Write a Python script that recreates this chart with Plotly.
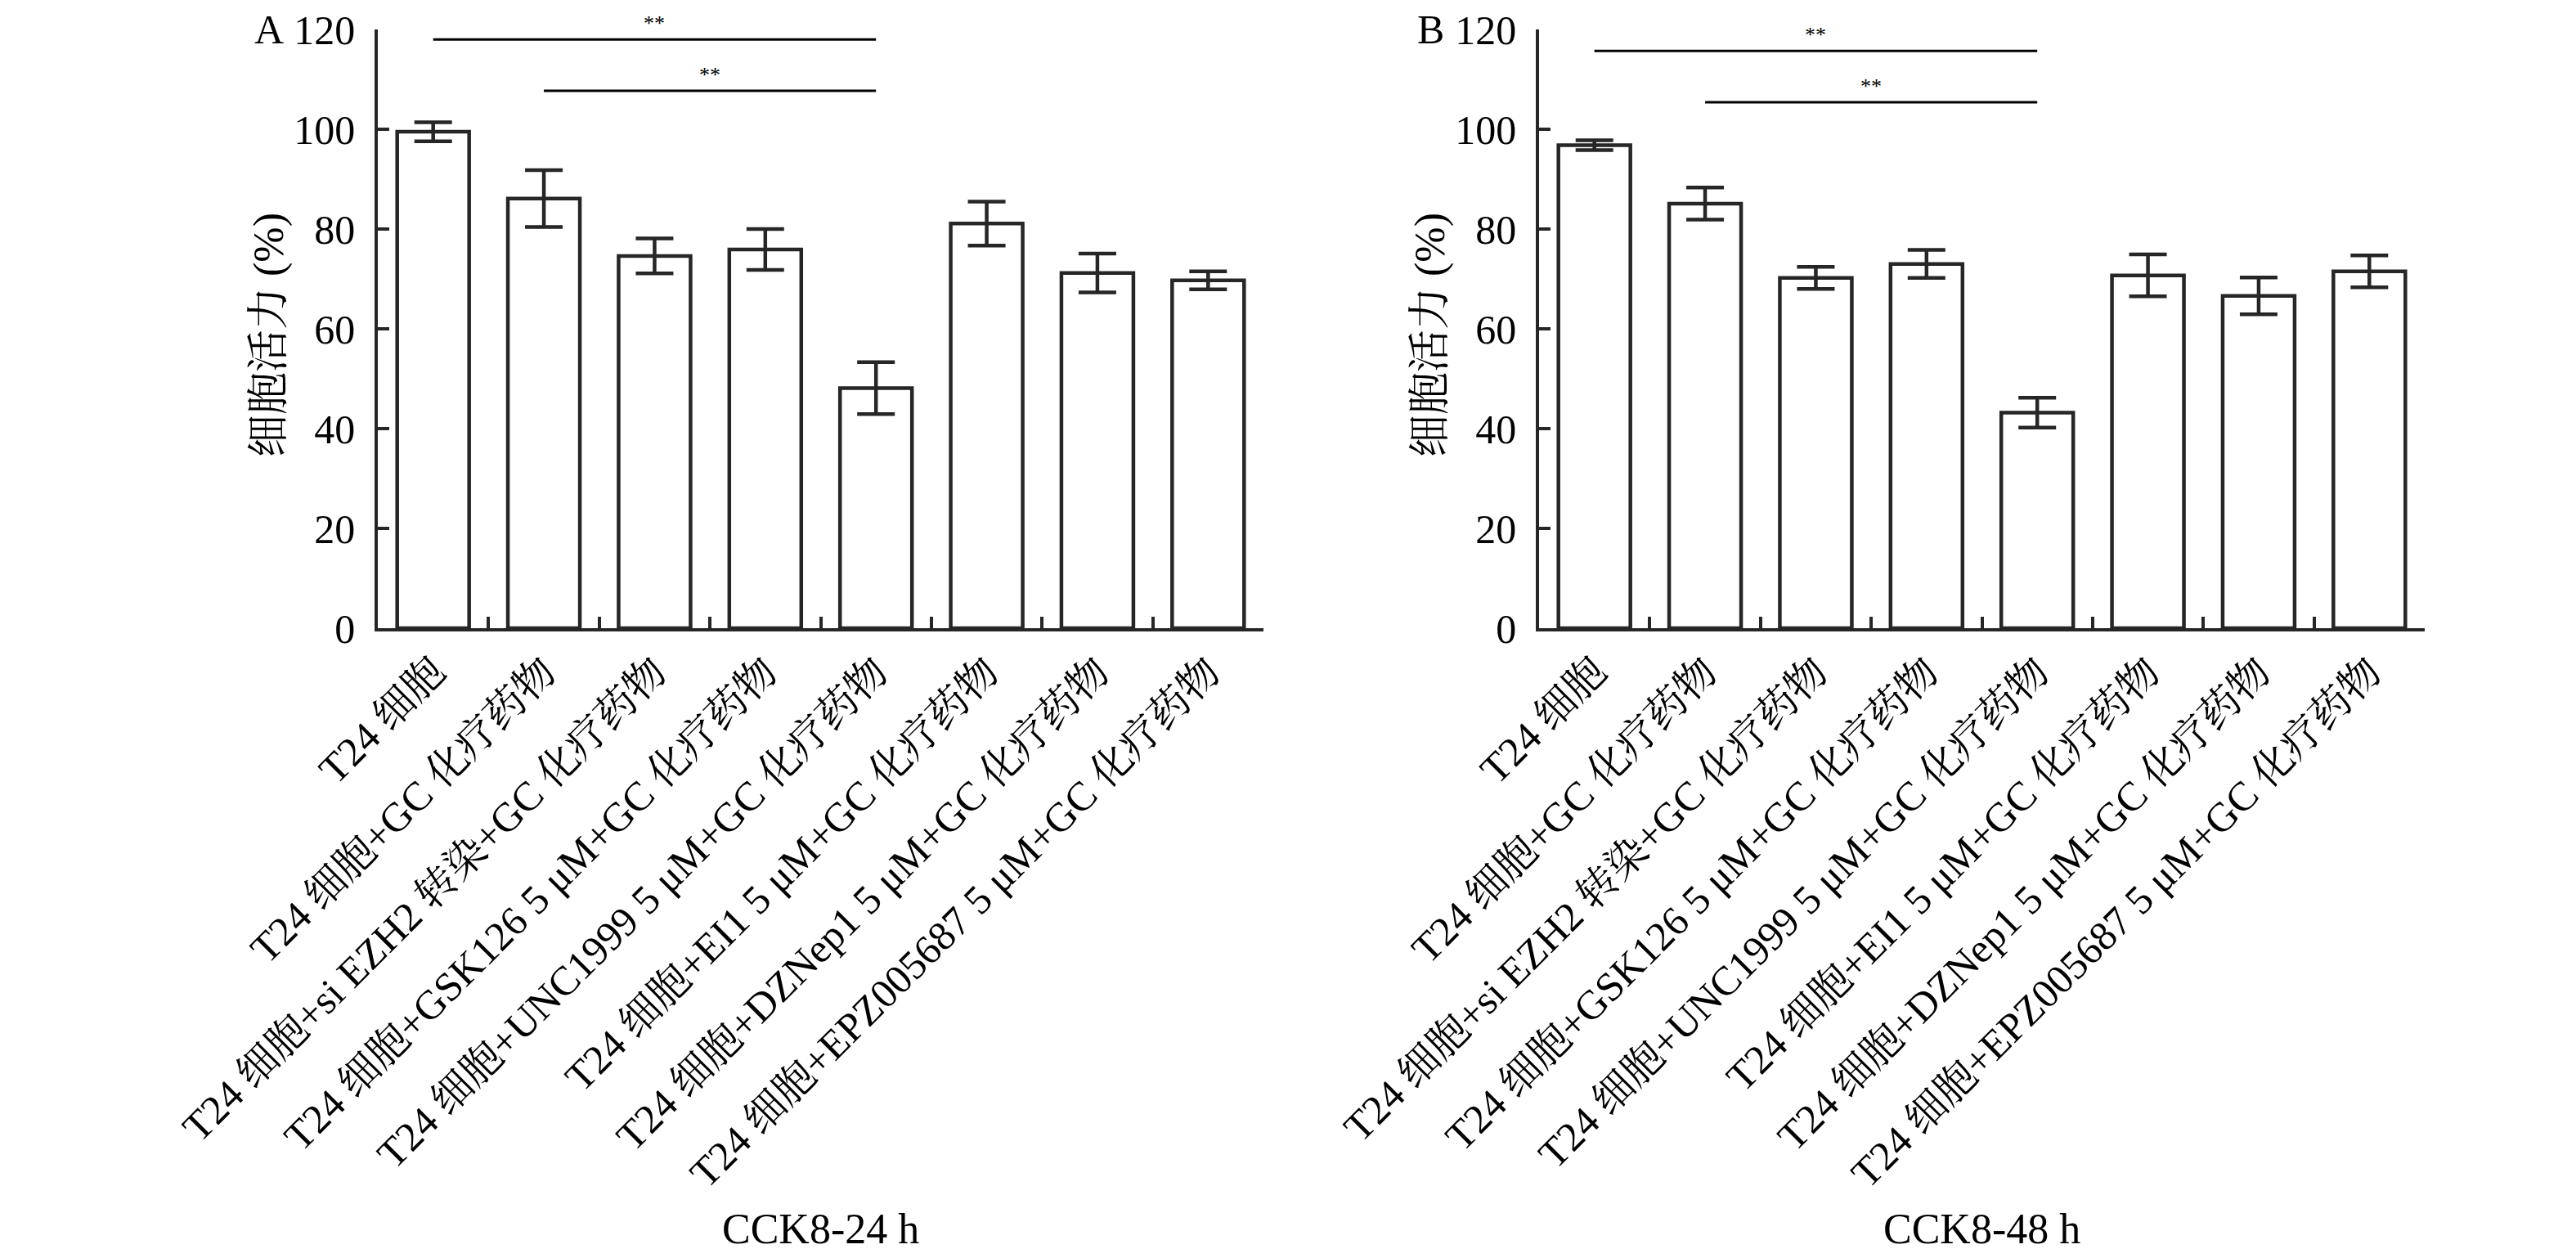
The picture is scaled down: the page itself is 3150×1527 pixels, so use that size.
import plotly.graph_objects as go

W, H = 3150, 1527

categories = [
    "T24 细胞",
    "T24 细胞+GC 化疗药物",
    "T24 细胞+si EZH2 转染+GC 化疗药物",
    "T24 细胞+GSK126 5 μM+GC 化疗药物",
    "T24 细胞+UNC1999 5 μM+GC 化疗药物",
    "T24 细胞+EI1 5 μM+GC 化疗药物",
    "T24 细胞+DZNep1 5 μM+GC 化疗药物",
    "T24 细胞+EPZ005687 5 μM+GC 化疗药物",
]

viability_24h = [99.5, 86.1, 74.6, 75.9, 48.1, 81.1, 71.2, 69.7]
error_24h = [1.9, 5.7, 3.5, 4.1, 5.2, 4.4, 3.9, 1.8]

viability_48h = [96.8, 85.1, 70.2, 73.0, 43.2, 70.7, 66.6, 71.5]
error_48h = [1.0, 3.2, 2.2, 2.8, 3.0, 4.2, 3.7, 3.2]

panel_letters = ["A", "B"]
x_titles = ["CCK8-24 h", "CCK8-48 h"]
y_title = "细胞活力 (%)"
y_ticks = [0, 20, 40, 60, 80, 100, 120]

# significance brackets: (from index, to index, height, label)
sig_24h = [(0, 4, 118.0, "**"), (1, 4, 107.7, "**")]
sig_48h = [(0, 4, 115.7, "**"), (1, 4, 105.4, "**")]

FONT = "Liberation Serif, Noto Serif CJK SC, Noto Sans CJK SC, serif"
DARK = "#262626"

# layout geometry (pixels in the 3150x1527 figure)
x_dom_px = [(454, 1537), (1874, 2957)]
y_top_px, y_bot_px = 28, 760

fig = go.Figure()

datasets = [(viability_24h, error_24h, sig_24h), (viability_48h, error_48h, sig_48h)]
for i, (vals, errs, sigs) in enumerate(datasets):
    xa = "x" if i == 0 else "x2"
    ya = "y" if i == 0 else "y2"
    fig.add_trace(go.Bar(
        x=categories, y=vals,
        xaxis=xa, yaxis=ya,
        width=0.65,
        marker=dict(color="white", line=dict(color=DARK, width=4.5)),
        error_y=dict(type="data", array=errs, visible=True,
                     color=DARK, thickness=4.5, width=23),
        showlegend=False,
    ))
    for a, b, h, txt in sigs:
        fig.add_shape(type="line", xref=xa, yref=ya,
                      x0=categories[a], x1=categories[b], y0=h, y1=h,
                      line=dict(color="black", width=3))
        fig.add_annotation(xref=xa, yref=ya, x=(a + b) / 2, y=h,
                           text=txt, showarrow=False,
                           xanchor="center", yanchor="bottom", yshift=3,
                           font=dict(family=FONT, size=26, color="black"))

y_dom = [1 - y_bot_px / H, 1 - y_top_px / H]

axis_common = dict(
    showline=True, linecolor=DARK, linewidth=3.5,
    showgrid=False, zeroline=False,
    ticks="inside", ticklen=14, tickwidth=3.5, tickcolor=DARK,
    automargin=False,
)

for i in range(2):
    xd = [x_dom_px[i][0] / W, x_dom_px[i][1] / W]
    xkey = "xaxis" if i == 0 else "xaxis2"
    ykey = "yaxis" if i == 0 else "yaxis2"
    fig.update_layout(**{
        xkey: dict(axis_common, domain=xd, type="category",
                   range=[-0.5, 7.5], tickson="boundaries",
                   tickangle=-45, ticklabeloverflow="allow",
                   tickfont=dict(family=FONT, size=50, color="black"),
                   anchor="y" if i == 0 else "y2"),
        ykey: dict(axis_common, domain=y_dom, range=[0, 120],
                   tickvals=y_ticks, ticklabelstandoff=14,
                   ticklabeloverflow="allow",
                   tickfont=dict(family=FONT, size=50, color="black"),
                   anchor="x" if i == 0 else "x2"),
    })
    # panel letter
    fig.add_annotation(xref="paper", yref="paper",
                       x=(x_dom_px[i][0] - 133) / W, y=1 - y_top_px / H,
                       text=panel_letters[i], showarrow=False,
                       xanchor="center", yanchor="middle",
                       font=dict(family=FONT, size=50, color="black"))
    # y title
    fig.add_annotation(xref="paper", yref="paper",
                       x=(x_dom_px[i][0] - 133) / W, y=1 - 402 / H,
                       text=y_title, textangle=-90, showarrow=False,
                       xanchor="center", yanchor="middle",
                       font=dict(family=FONT, size=52, color="black"))
    # x title
    fig.add_annotation(xref="paper", yref="paper",
                       x=(x_dom_px[i][0] + x_dom_px[i][1]) / 2 / W, y=1 - 1494 / H,
                       text=x_titles[i], showarrow=False,
                       xanchor="center", yanchor="middle",
                       font=dict(family=FONT, size=52, color="black"))

fig.update_layout(
    width=W, height=H,
    margin=dict(l=0, r=0, t=0, b=0),
    paper_bgcolor="white", plot_bgcolor="white",
    bargap=0.35,
    font=dict(family=FONT, color="black"),
)

fig.write_html("out.html")
